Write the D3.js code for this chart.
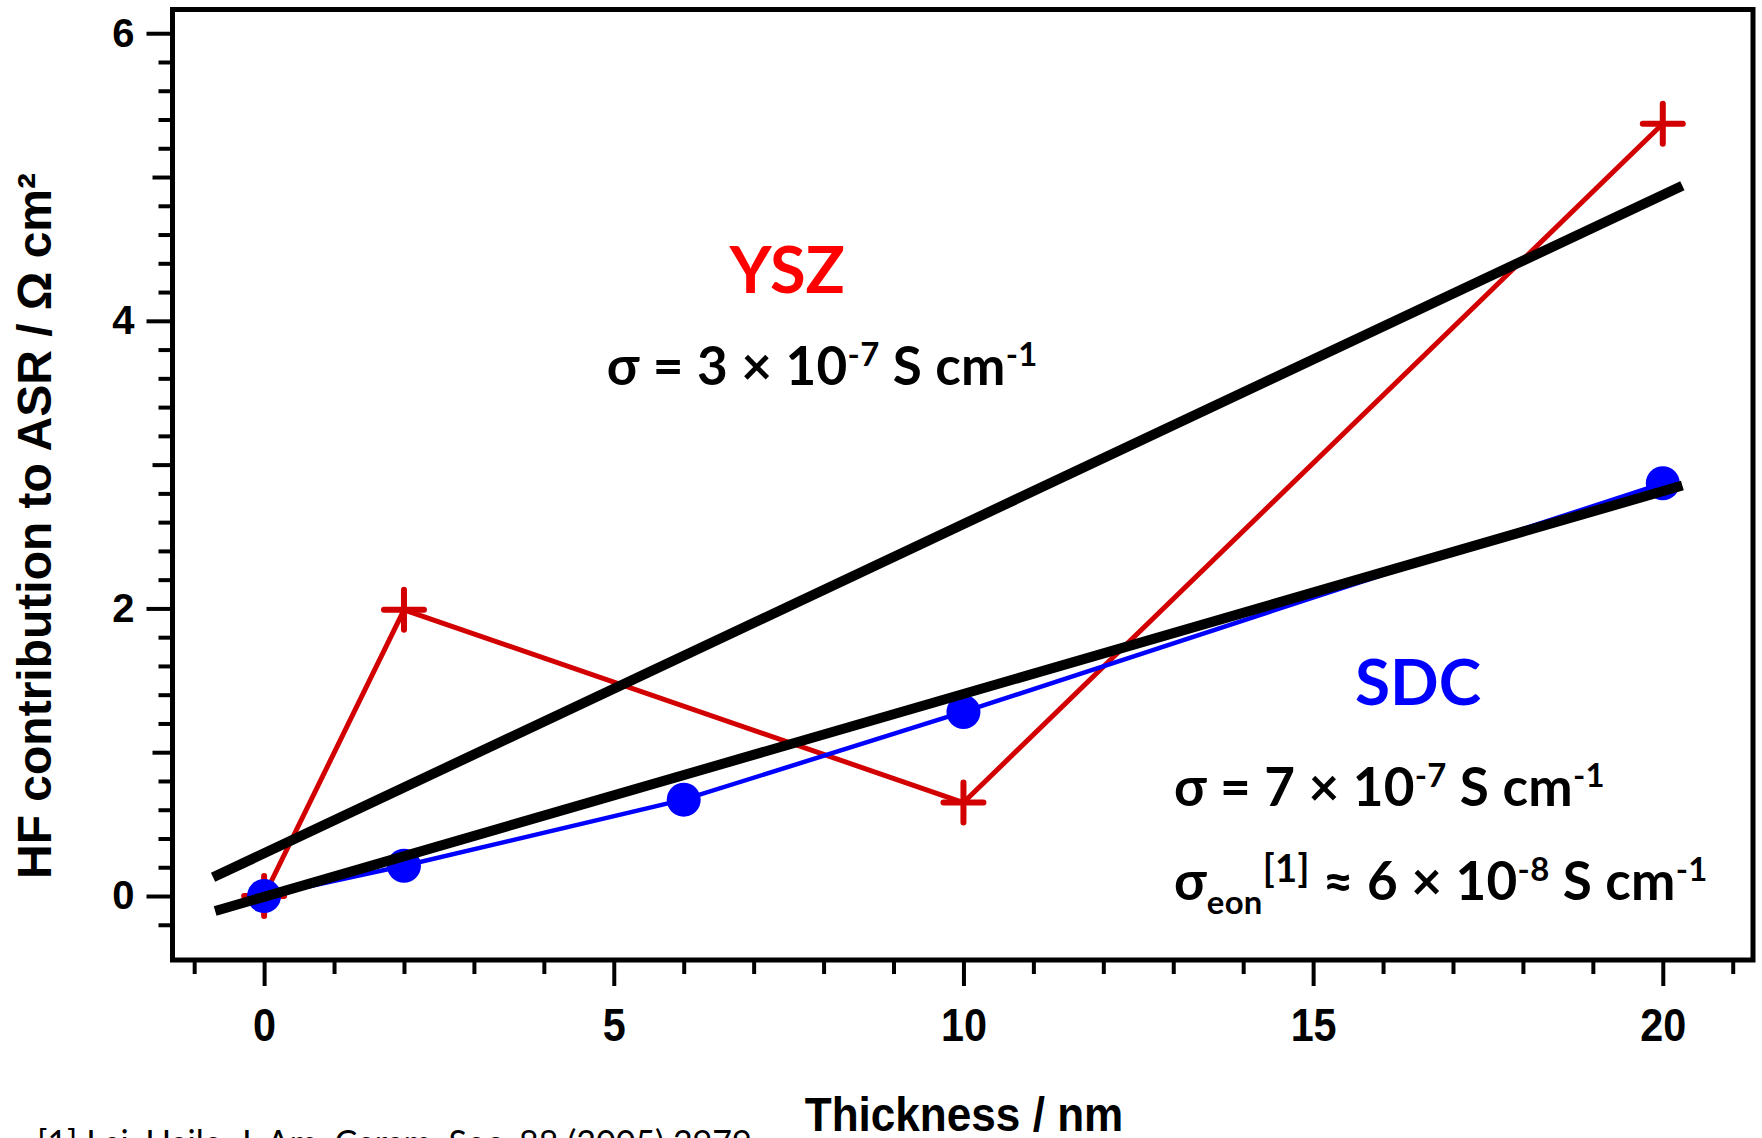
<!DOCTYPE html>
<html>
<head>
<meta charset="utf-8">
<script src="https://cdn.jsdelivr.net/npm/d3@7"></script>
<style>
  html, body { margin: 0; padding: 0; background: #fff; }
  svg { display: block; }
</style>
</head>
<body>
<svg id="chart" width="1762" height="1138"></svg>
<script>
// ---- data ----
const thicknessSDC = [0, 2, 6, 10, 20];
const asrSDC       = [0, 0.21, 0.67, 1.28, 2.87];

const thicknessYSZ = [0, 2, 10, 20];
const asrYSZ       = [0, 1.99, 0.65, 5.37];

// linear fits drawn as thick black lines (endpoints in data units)
const fitYSZx = [-0.73, 20.28];
const fitYSZy = [0.13, 4.94];
const fitSDCx = [-0.70, 20.28];
const fitSDCy = [-0.104, 2.855];

const xMajorTicks = [0, 5, 10, 15, 20];
const xMinorTicks = d3.range(-1, 22, 1).filter(v => v % 5 !== 0);
const yMajorTicks = [0, 2, 4, 6];
const yMediumTicks = [1, 3, 5];
const yMinorTicks = d3.range(-1, 31).map(i => +(i * 0.2).toFixed(1))
  .filter(v => Math.abs(v - Math.round(v)) > 1e-6);

const xTitle = "Thickness / nm";
const yTitle = "HF contribution to ASR / Ω cm²";
const footnote = "[1] Lai, Haile, J. Am. Ceram. Soc. 88 (2005) 2979";

// ---- layout ----
const svg = d3.select("#chart");
const frame = { left: 172.5, right: 1753, top: 9.5, bottom: 960 };

const x = d3.scaleLinear().domain([-1.31, 21.29]).range([frame.left, frame.right]);
const y = d3.scaleLinear().domain([-0.445, 6.165]).range([frame.bottom, frame.top]);

const RED = "#d20000";
const BLUE = "#0000ff";
const tickFont = "'Liberation Sans', Arial, sans-serif";
const textFont = "Lato, 'Open Sans', sans-serif";

// ---- axes ----
function styleAxis(g) {
  g.select(".domain").remove();
  g.selectAll(".tick line").attr("stroke", "#000").attr("stroke-width", 4);
}

svg.append("g").attr("transform", `translate(0,${frame.bottom})`)
  .call(d3.axisBottom(x).tickValues(xMinorTicks).tickSize(14).tickFormat(""))
  .call(styleAxis);

const xAxisMajor = svg.append("g").attr("transform", `translate(0,${frame.bottom})`)
  .call(d3.axisBottom(x).tickValues(xMajorTicks).tickSize(26).tickPadding(22).tickFormat(d3.format("d")))
  .call(styleAxis);
xAxisMajor.selectAll(".tick text")
  .attr("fill", "#000")
  .style("font-family", tickFont).style("font-weight", "bold").style("font-size", "47px")
  .style("transform-box", "fill-box").style("transform-origin", "center")
  .style("transform", "scaleX(0.88)");

svg.append("g").attr("transform", `translate(${frame.left},0)`)
  .call(d3.axisLeft(y).tickValues(yMinorTicks).tickSize(14).tickFormat(""))
  .call(styleAxis);
svg.append("g").attr("transform", `translate(${frame.left},0)`)
  .call(d3.axisLeft(y).tickValues(yMediumTicks).tickSize(20).tickFormat(""))
  .call(styleAxis);
const yAxisMajor = svg.append("g").attr("transform", `translate(${frame.left},0)`)
  .call(d3.axisLeft(y).tickValues(yMajorTicks).tickSize(26).tickPadding(12).tickFormat(d3.format("d")))
  .call(styleAxis);
yAxisMajor.selectAll(".tick text")
  .attr("fill", "#000")
  .style("font-family", tickFont).style("font-weight", "bold").style("font-size", "40px");

// ---- frame ----
svg.append("rect")
  .attr("x", frame.left).attr("y", frame.top)
  .attr("width", frame.right - frame.left).attr("height", frame.bottom - frame.top)
  .attr("fill", "none").attr("stroke", "#000").attr("stroke-width", 5);

// ---- series ----
const line = d3.line().x(d => x(d[0])).y(d => y(d[1]));
const yszPts = thicknessYSZ.map((t, i) => [t, asrYSZ[i]]);
const sdcPts = thicknessSDC.map((t, i) => [t, asrSDC[i]]);

svg.append("path").datum(yszPts).attr("d", line)
  .attr("fill", "none").attr("stroke", RED).attr("stroke-width", 5).attr("stroke-linejoin", "round");
svg.append("g").selectAll("path").data(yszPts).join("path")
  .attr("transform", d => `translate(${x(d[0])},${y(d[1])})`)
  .attr("d", "M-20,0H20M0,-20V20")
  .attr("stroke", RED).attr("stroke-width", 6).attr("stroke-linecap", "round");

svg.append("path").datum(sdcPts).attr("d", line)
  .attr("fill", "none").attr("stroke", BLUE).attr("stroke-width", 4.5);
svg.append("g").selectAll("circle").data(sdcPts).join("circle")
  .attr("cx", d => x(d[0])).attr("cy", d => y(d[1])).attr("r", 17)
  .attr("fill", BLUE);

// ---- fitted lines ----
[[fitYSZx, fitYSZy], [fitSDCx, fitSDCy]].forEach(([fx, fy]) => {
  svg.append("path").datum(fx.map((v, i) => [v, fy[i]])).attr("d", line)
    .attr("fill", "none").attr("stroke", "#000").attr("stroke-width", 10);
});

// ---- axis titles ----
svg.append("text")
  .attr("x", 964).attr("y", 1131).attr("text-anchor", "middle")
  .style("font-family", tickFont).style("font-weight", "bold").style("font-size", "49px")
  .style("transform-box", "fill-box").style("transform-origin", "center")
  .style("transform", "scaleX(0.9)")
  .text(xTitle);

svg.append("text")
  .attr("transform", "translate(51,526) rotate(-90)").attr("text-anchor", "middle")
  .style("font-family", tickFont).style("font-weight", "bold").style("font-size", "48px")
  .text(yTitle);

// ---- annotations ----
function rich(px, py, parts, size, color, anchor, spacing) {
  const t = svg.append("text").attr("x", px).attr("y", py)
    .attr("text-anchor", anchor || "start")
    .attr("fill", color || "#000")
    .style("font-family", textFont).style("font-weight", "bold").style("font-size", size + "px")
    .style("letter-spacing", (spacing || 0) + "px");
  let shift = 0;
  parts.forEach(p => {
    let target = 0, fs = size;
    if (p.sup) { target = -0.36 * size; fs = 0.62 * size; }
    if (p.sub) { target = 0.26 * size; fs = 0.62 * size; }
    if (p.supBig) { target = -0.34 * size; fs = 0.72 * size; }
    t.append("tspan").attr("dy", target - shift).style("font-size", fs + "px").text(p.t);
    shift = target;
  });
  return t;
}

const labelYSZ = { x: 7.48, y: 4.19 };
const labelSDC = { x: 16.5, y: 1.33 };
const sigmaYSZ = { x: 4.9, y: 3.553 };
const sigmaSDC = { x: 13.01, y: 0.626 };
const sigmaEon = { x: 13.01, y: -0.028 };

rich(x(labelYSZ.x), y(labelYSZ.y), [{ t: "YSZ" }], 65, "#ff0000", "middle");
rich(x(labelSDC.x), y(labelSDC.y), [{ t: "SDC" }], 64, BLUE, "middle");

rich(x(sigmaYSZ.x), y(sigmaYSZ.y),
  [{ t: "σ = 3 × 10" }, { t: "-7", sup: true }, { t: " S cm" }, { t: "-1", sup: true }], 53, "#000", "start", 0.3);
rich(x(sigmaSDC.x), y(sigmaSDC.y),
  [{ t: "σ = 7 × 10" }, { t: "-7", sup: true }, { t: " S cm" }, { t: "-1", sup: true }], 53, "#000", "start", 0.3);
rich(x(sigmaEon.x), y(sigmaEon.y),
  [{ t: "σ" }, { t: "eon", sub: true }, { t: "[1]", supBig: true }, { t: " ≈ 6 × 10" },
   { t: "-8", sup: true }, { t: " S cm" }, { t: "-1", sup: true }], 53, "#000", "start", 0.3);

// ---- reference note (runs off the bottom edge) ----
svg.append("text")
  .attr("x", 37).attr("y", 1155)
  .style("font-family", textFont).style("font-size", "34px")
  .text(footnote);
</script>
</body>
</html>
